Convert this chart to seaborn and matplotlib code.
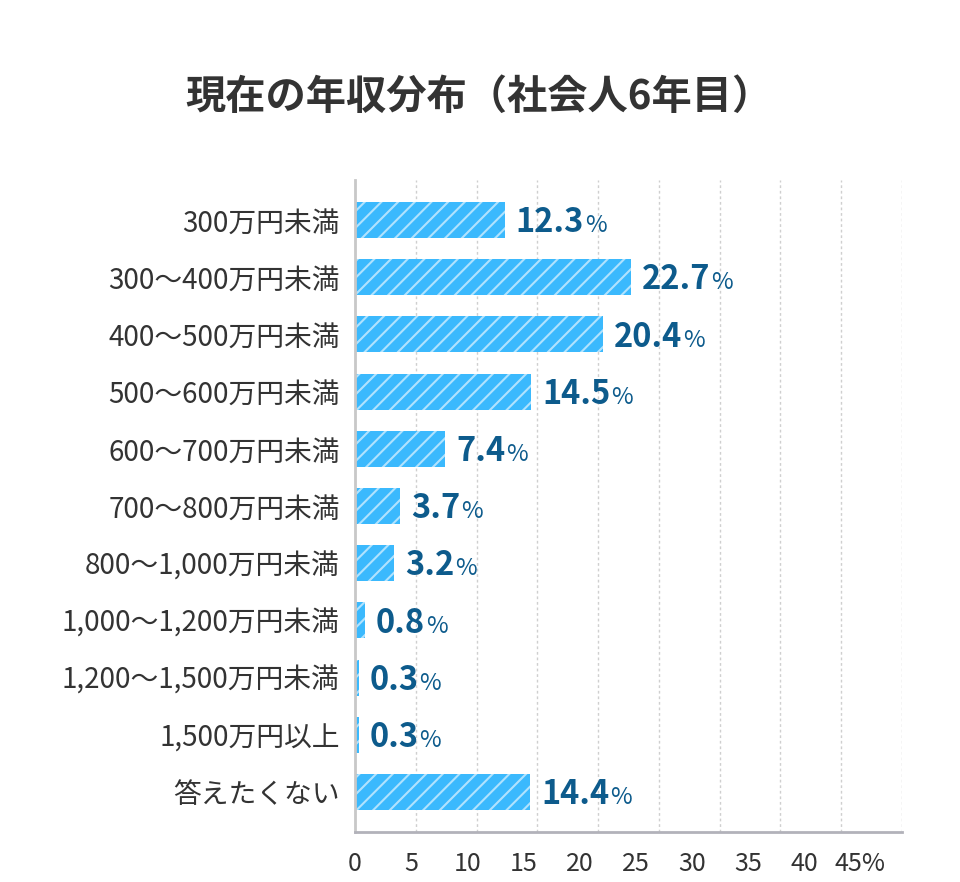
import numpy as np
import pandas as pd
import matplotlib
matplotlib.use("Agg")
import matplotlib.pyplot as plt
from matplotlib.ticker import FixedLocator
import seaborn as sns

# ---- data ----
categories = ["300万円未満", "300〜400万円未満", "400〜500万円未満", "500〜600万円未満",
              "600〜700万円未満", "700〜800万円未満", "800〜1,000万円未満",
              "1,000〜1,200万円未満", "1,200〜1,500万円未満", "1,500万円以上", "答えたくない"]
values = [12.3, 22.7, 20.4, 14.5, 7.4, 3.7, 3.2, 0.8, 0.3, 0.3, 14.4]
x_tick_labels = ["0", "5", "10", "15", "20", "25", "30", "35", "40", "45%"]
title = "現在の年収分布（社会人6年目）"

# ---- style ----
sns.set_theme(style="white")
plt.rcParams["font.family"] = ["Noto Sans CJK JP", "DejaVu Sans"]
plt.rcParams["hatch.linewidth"] = 1.5
plt.rcParams["hatch.color"] = (1, 1, 1, 0.6)

BAR = "#3bb9fd"
LABEL = "#0d5b8c"
TEXT = "#333333"

df = pd.DataFrame({"category": categories, "value": values})

fig = plt.figure(figsize=(9.6, 8.82), dpi=100)
ax = fig.add_axes([355 / 960, 1 - 832 / 882, (902 - 355) / 960, (832 - 180) / 882])

sns.barplot(data=df, x="value", y="category", orient="h", color=BAR,
            saturation=1, width=0.63, ax=ax)

for p in ax.patches:
    p.set_hatch("//")
    p.set_edgecolor((1, 1, 1, 0.6))
    p.set_linewidth(0)

ax.set_xlim(0, 45)
ax.set_ylim(len(categories) - 0.3, -0.7)
ax.set_xlabel("")
ax.set_ylabel("")

# gridlines every 5 units (minor), labels as in the reference (major)
ax.xaxis.set_minor_locator(FixedLocator(np.arange(0, 46, 5)))
ax.set_xticks(np.arange(len(x_tick_labels)) * 4.62)
ax.set_xticklabels(x_tick_labels)
ax.grid(False)
ax.grid(which="minor", axis="x", linestyle=(0, (2, 2)), color="#cfcfcf", linewidth=1)
ax.set_axisbelow(True)

ax.tick_params(axis="x", which="both", length=0, pad=14, labelsize=18, labelcolor=TEXT)
ax.tick_params(axis="y", length=0, pad=11, labelsize=20, labelcolor=TEXT)

for s in ["top", "right"]:
    ax.spines[s].set_visible(False)
ax.spines["left"].set_color("#c8c8c8")
ax.spines["left"].set_linewidth(2)
ax.spines["bottom"].set_color("#b2b2ba")
ax.spines["bottom"].set_linewidth(2)

for i, v in enumerate(values):
    t = ax.annotate(f"{v:.1f}", xy=(v, i), xytext=(8, -8.8), textcoords="offset points",
                    ha="left", va="baseline", fontsize=23.5, fontweight="bold", color=LABEL)
    ax.annotate("%", xy=(1, i), xycoords=(t, "data"), xytext=(0.5, -8.8),
                textcoords="offset points", ha="left", va="baseline",
                fontsize=17, color=LABEL)

fig.text(479 / 960, 1 - 97 / 882, title, ha="center", va="center",
         fontsize=29, fontweight="bold", color=TEXT)

fig.savefig("out.png", dpi=100)
